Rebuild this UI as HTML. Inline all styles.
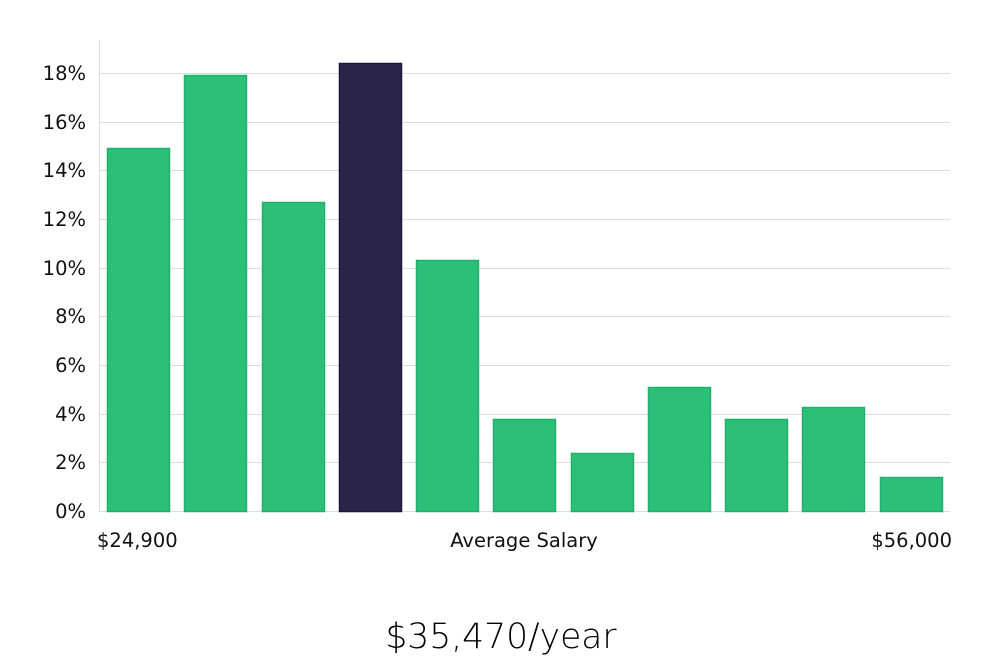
<!DOCTYPE html>
<html><head><meta charset="utf-8"><style>
html,body{margin:0;padding:0;background:#fff;}
svg{display:block;font-family:"DejaVu Sans","Liberation Sans",sans-serif;}
</style></head><body>
<svg width="1000" height="660" viewBox="0 0 1000 660">
<g stroke="#dddddd" stroke-width="1">
<line x1="99" x2="950" y1="73.5" y2="73.5"/>
<line x1="99" x2="950" y1="122.5" y2="122.5"/>
<line x1="99" x2="950" y1="170.5" y2="170.5"/>
<line x1="99" x2="950" y1="219.5" y2="219.5"/>
<line x1="99" x2="950" y1="268.5" y2="268.5"/>
<line x1="99" x2="950" y1="316.5" y2="316.5"/>
<line x1="99" x2="950" y1="365.5" y2="365.5"/>
<line x1="99" x2="950" y1="414.5" y2="414.5"/>
<line x1="99" x2="950" y1="462.5" y2="462.5"/>
<line x1="99" x2="950" y1="511.5" y2="511.5"/>
<line x1="99.5" x2="99.5" y1="40" y2="512"/>
</g>
<g fill="#2bbf78" stroke="#22b06c" stroke-width="1.5">
<rect x="107.5" y="148.5" width="62" height="363"/>
<rect x="184.5" y="75.5" width="62" height="436"/>
<rect x="262.5" y="202.5" width="62" height="309"/>
<rect x="416.5" y="260.5" width="62" height="251"/>
<rect x="493.5" y="419.5" width="62" height="92"/>
<rect x="571.5" y="453.5" width="62" height="58"/>
<rect x="648.5" y="387.5" width="62" height="124"/>
<rect x="725.5" y="419.5" width="62" height="92"/>
<rect x="802.5" y="407.5" width="62" height="104"/>
<rect x="880.5" y="477.5" width="62" height="34"/>
</g>
<rect x="339.5" y="63.5" width="62" height="448" fill="#2a2548" stroke="#1c1838" stroke-width="1.5"/>
<g font-size="19.5" fill="#111" text-anchor="end">
<text x="86" y="80">18%</text>
<text x="86" y="129">16%</text>
<text x="86" y="177">14%</text>
<text x="86" y="226">12%</text>
<text x="86" y="275">10%</text>
<text x="86" y="323">8%</text>
<text x="86" y="372">6%</text>
<text x="86" y="421">4%</text>
<text x="86" y="469">2%</text>
<text x="86" y="518">0%</text>
</g>
<g font-size="19.5" fill="#111">
<text x="97" y="547">$24,900</text>
<text x="524" y="547" text-anchor="middle">Average Salary</text>
<text x="952" y="547" text-anchor="end">$56,000</text>
</g>
<text x="501" y="648" font-size="34.5" fill="#000" text-anchor="middle" font-weight="300">$35,470/year</text>
</svg>
</body></html>
